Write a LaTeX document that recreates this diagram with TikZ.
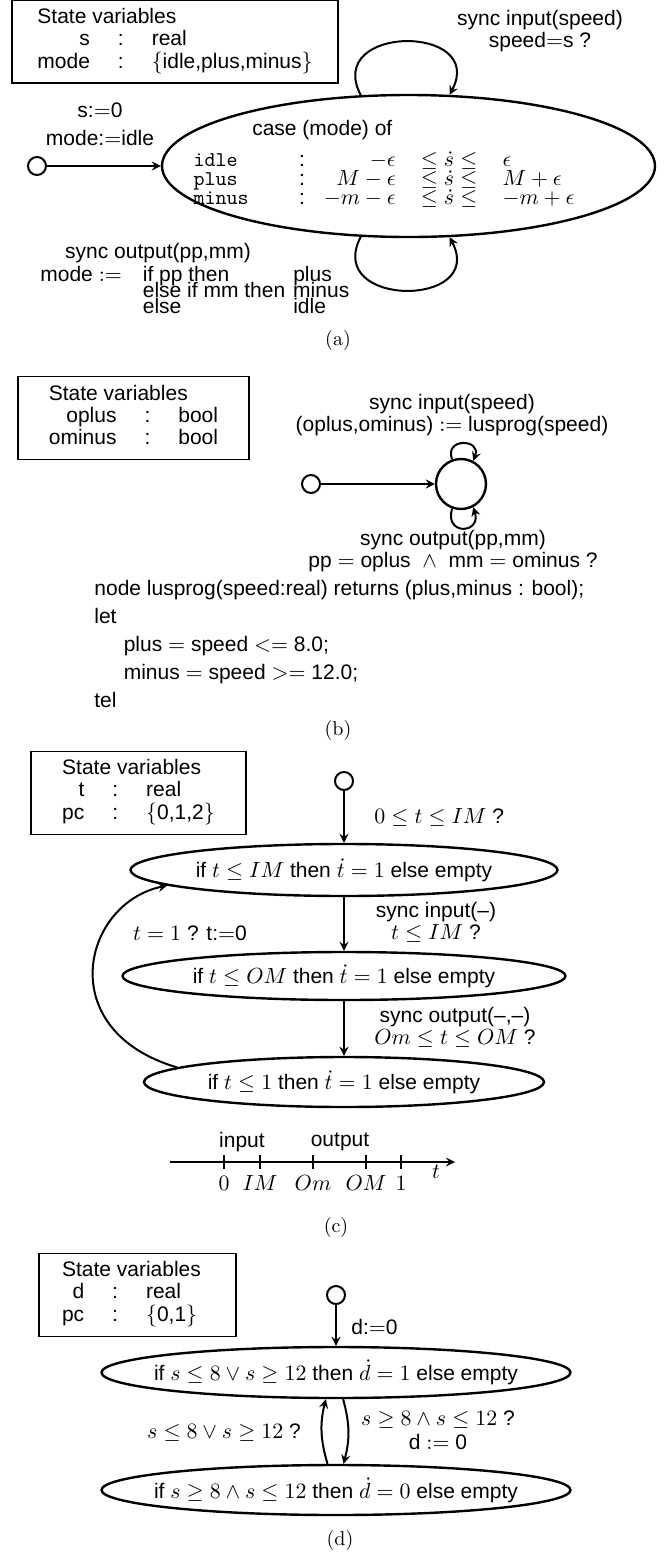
\documentclass[tikz,border=0pt]{standalone}
\usepackage{amsmath,amssymb}
\usepackage{fontspec}
\setsansfont{Liberation Sans}
\usepackage{tikz}
\usetikzlibrary{shapes.geometric, arrows, positioning}

\begin{document}
\begin{tikzpicture}[
    x=0.5pt, y=0.5pt,
    font=\sffamily\fontsize{10.5}{11}\selectfont,
    varbox/.style={draw, line width=0.7pt, minimum height=41.5pt, inner sep=0pt},
    loc/.style={ellipse, draw, line width=1.2pt, inner sep=0pt},
    startdot/.style={circle, draw, line width=1pt, minimum size=9pt, inner sep=0pt},
    lbl/.style={align=center, inner sep=0pt},
    subcap/.style={font=\rmfamily\fontsize{10}{12}\selectfont, inner sep=0pt},
    arrow/.style={line width=1pt,->,>=stealth}
]
\useasboundingbox (0,0) rectangle (672,-1553);

% (a)
\node[varbox, minimum width=163pt] (varsA) at (175,-41.5) {\begin{tabular}{@{}r@{\hspace{14pt}}c@{\hspace{14pt}}l@{}}
\multicolumn{3}{@{}l}{State variables}\\
s & : & real\\
mode & : & $\{$idle,plus,minus$\}$
\end{tabular}};
\node[startdot] (initA) at (37,-166) {};
\node[loc, minimum width=246.5pt, minimum height=71pt] (stateA) at (408.5,-166) {};
\node[lbl] (bodyA) at (384,-166) {\begin{tabular}{@{}l@{\hspace{2.4em}}c@{\hspace{0.9em}}r@{\hspace{1.2em}}c@{\hspace{1.2em}}l@{}}
\multicolumn{5}{@{\hspace{2.8em}}l}{case (mode) of}\\[4.5pt]
\texttt{idle} & : & $-\epsilon$ & $\leq\dot{s}\leq$ & $\epsilon$\\[-1.5pt]
\texttt{plus} & : & $M-\epsilon$ & $\leq\dot{s}\leq$ & $M+\epsilon$\\[-1.5pt]
\texttt{minus} & : & $-m-\epsilon$ & $\leq\dot{s}\leq$ & $-m+\epsilon$
\end{tabular}};
\node[lbl, font=\sffamily\fontsize{10.5}{14}\selectfont] (initLblA) at (100,-124) {s:$=$0\\mode:$=$idle};
\node[lbl] (inA) at (540,-31) {sync input(speed)\\speed$=$s ?};
\node[lbl] (outA) at (158,-253) {sync output(pp,mm)};
\node[anchor=north west, inner sep=0pt] (modeA) at (40,-266) {\begin{tabular}{@{}l@{\hspace{1em}}l@{\hspace{4pt}}l@{}}
mode $:=$ & if pp then & plus\\[-3pt]
 & else if mm then & minus\\[-3pt]
 & else & idle
\end{tabular}};
\node[subcap] (capA) at (338,-340) {(a)};

\draw[arrow] (initA) -- (stateA);
\draw[arrow] (stateA.124) .. controls +(-37,71) and +(37,71) .. (stateA.60);
\draw[arrow] (stateA.236) .. controls +(-37,-71) and +(37,-71) .. (stateA.300);

% (b)
\node[varbox, minimum width=115.5pt] (varsB) at (133.5,-418) {\begin{tabular}{@{}r@{\hspace{14pt}}c@{\hspace{14pt}}l@{}}
\multicolumn{3}{@{}l}{State variables}\\
oplus & : & bool\\
ominus & : & bool
\end{tabular}};
\node[startdot] (initB) at (311,-484) {};
\node[circle, draw, line width=1.2pt, minimum size=25pt, inner sep=0pt] (stateB) at (461,-484) {};
\node[lbl] (inB) at (452,-415) {sync input(speed)\\(oplus,ominus) $:=$ lusprog(speed)};
\node[lbl] (outB) at (453,-551) {sync output(pp,mm)\\pp $=$ oplus \ $\wedge$\ \ mm $=$ ominus ?};
\node[anchor=north west, align=left, inner sep=0pt, font=\sffamily\fontsize{10.5}{14}\selectfont] (codeB) at (94,-580) {node lusprog(speed:real) returns (plus,minus : bool);\\
let\\
\hspace*{1.4em}plus $=$ speed $<=$ 8.0;\\
\hspace*{1.4em}minus $=$ speed $>=$ 12.0;\\
tel};
\node[subcap] (capB) at (338,-730) {(b)};

\draw[arrow] (initB) -- (stateB);
\draw[arrow] (stateB.110) .. controls +(-8,22) and +(8,22) .. (stateB.62);
\draw[arrow] (stateB.250) .. controls +(-8,-27) and +(8,-27) .. (stateB.298);

% (c)
\node[varbox, minimum width=107.5pt] (varsC) at (138.5,-793) {\begin{tabular}{@{}r@{\hspace{14pt}}c@{\hspace{14pt}}l@{}}
\multicolumn{3}{@{}l}{State variables}\\
t & : & real\\
pc & : & $\{$0,1,2$\}$
\end{tabular}};
\node[startdot] (initC) at (344,-781) {};
\node[loc, minimum width=213.5pt, minimum height=26pt] (locC1) at (344,-870) {};
\node (txtC1) at (locC1) {if $t \leq IM$ then $\dot{t}=1$ else empty};
\node[loc, minimum width=221.5pt, minimum height=24pt] (locC2) at (344,-976) {};
\node (txtC2) at (locC2) {if $t \leq OM$ then $\dot{t}=1$ else empty};
\node[loc, minimum width=200pt, minimum height=25pt] (locC3) at (344,-1082) {};
\node (txtC3) at (locC3) {if $t \leq 1$ then $\dot{t}=1$ else empty};
\node[lbl, anchor=west] (grdC0) at (374,-817) {$0 \leq t \leq IM$ ?};
\node[lbl] (grdC1) at (436,-922) {sync input(--)\\$t \leq IM$ ?};
\node[lbl] (grdC2) at (455,-1027) {sync output(--,--)\\$Om \leq t \leq OM$ ?};
\node[lbl] (grdBack) at (190,-933) {$t=1$ ? t:$=$0};

\draw[arrow] (initC) -- (locC1);
\draw[arrow] (locC1) -- (locC2);
\draw[arrow] (locC2) -- (locC3);
\draw[arrow] (locC3.175) .. controls +(-125,37) and +(-85,-18) .. (locC1.185);

\coordinate (axL) at (170,-1162);
\coordinate (axR) at (455,-1162);
\draw[arrow] (axL) -- (axR);
\foreach \x/\lab/\nm in {224/0/tzero, 260/IM/tIM, 313/Om/tOm, 366/OM/tOM, 401/1/tone}
  \draw[line width=1pt] (\x,-1155) -- (\x,-1169) node[anchor=north, inner sep=0pt, yshift=-3pt] (\nm) {$\lab$};
\node[lbl] (tAxis) at (436,-1172) {$t$};
\node[lbl] (inTick) at (242,-1142) {input};
\node[lbl] (outTick) at (340,-1142) {output};
\node[subcap] (capC) at (336,-1227) {(c)};

% (d)
\node[varbox, minimum width=98.5pt] (varsD) at (137.5,-1295) {\begin{tabular}{@{}r@{\hspace{14pt}}c@{\hspace{14pt}}l@{}}
\multicolumn{3}{@{}l}{State variables}\\
d & : & real\\
pc & : & $\{$0,1$\}$
\end{tabular}};
\node[startdot] (initD) at (336,-1295) {};
\node[loc, minimum width=234.5pt, minimum height=25.5pt] (locD1) at (336,-1372.5) {};
\node (txtD1) at (locD1) {if $s \leq 8 \vee s \geq 12$ then $\dot{d}=1$ else empty};
\node[loc, minimum width=234.5pt, minimum height=25pt] (locD2) at (336,-1490) {};
\node (txtD2) at (locD2) {if $s \geq 8 \wedge s \leq 12$ then $\dot{d}=0$ else empty};
\node[lbl, anchor=west] (grdD0) at (351,-1327) {d:$=$0};
\node[lbl] (grdUp) at (224,-1433) {$s \leq 8 \vee s \geq 12$ ?};
\node[lbl, font=\sffamily\fontsize{10.5}{12}\selectfont] (grdDown) at (438,-1430) {$s \geq 8 \wedge s \leq 12$ ?\\d $:=$ 0};
\node[subcap] (capD) at (340,-1540) {(d)};

\draw[arrow] (initD) -- (locD1);
\draw[arrow] (locD2.108) to[bend left=15] (locD1.249);
\draw[arrow] (locD1.285) to[bend left=15] (locD2.74);

\end{tikzpicture}
\end{document}
